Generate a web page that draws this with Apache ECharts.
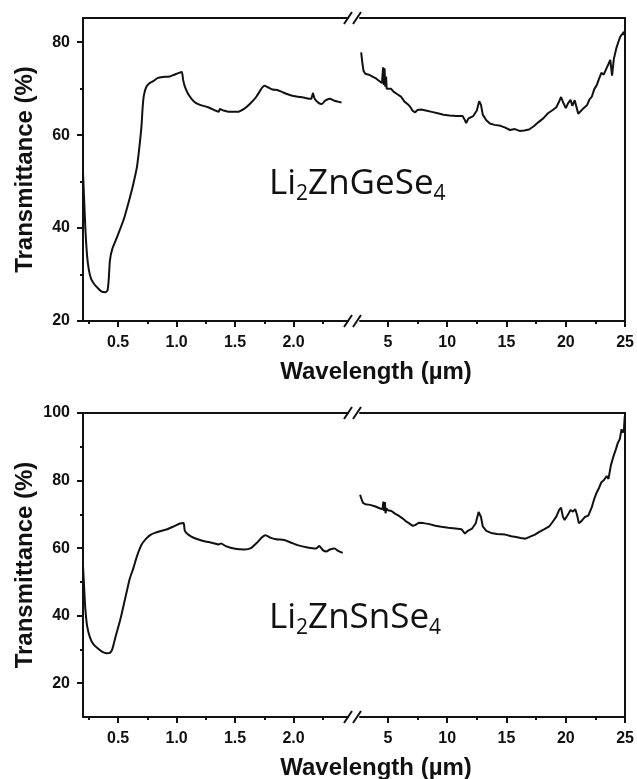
<!DOCTYPE html>
<html>
<head>
<meta charset="utf-8">
<script src="https://cdn.jsdelivr.net/npm/echarts@6/dist/echarts.min.js"></script>
<style>
html, body { margin: 0; padding: 0; background: #fff; }
#chart { width: 637px; height: 779px; }
</style>
</head>
<body>
<div id="chart"></div>
<script>
// Transmittance spectra, values: [wavelength (um), T (%)]
var geVis = [
    [0.20, 52], [0.21, 46], [0.22, 40], [0.235, 34], [0.25, 31], [0.27, 29], [0.30, 27.8],
    [0.33, 27], [0.36, 26.3], [0.39, 26.2], [0.41, 26.6], [0.42, 29], [0.43, 33], [0.45, 35.5],
    [0.49, 38], [0.55, 42], [0.60, 46.5], [0.63, 49.5], [0.66, 53], [0.68, 57], [0.70, 62],
    [0.71, 66], [0.72, 68.5], [0.74, 70.3], [0.77, 71.2], [0.80, 71.6], [0.84, 72.3], [0.88, 72.5],
    [0.94, 72.6], [0.98, 73], [1.02, 73.4], [1.045, 73.6], [1.055, 72], [1.07, 70.5], [1.10, 68.8],
    [1.15, 67.2], [1.20, 66.5], [1.27, 66], [1.33, 65.3], [1.36, 65], [1.37, 65.6], [1.40, 65.3],
    [1.45, 65], [1.52, 65], [1.58, 65.7], [1.63, 66.8], [1.68, 68.2], [1.72, 69.8], [1.75, 70.6],
    [1.78, 70.3], [1.82, 69.8], [1.86, 69.7], [1.90, 69.3], [1.95, 68.8], [2.00, 68.4], [2.06, 68.2],
    [2.12, 67.9], [2.15, 67.8], [2.165, 69.0], [2.18, 67.8], [2.21, 67], [2.24, 66.7], [2.27, 67.4],
    [2.31, 67.8], [2.35, 67.4], [2.38, 67.2], [2.41, 67]
];
var geIr = [
    [2.75, 77.8], [2.85, 75.5], [2.95, 73.8], [3.1, 73.2], [3.4, 73.0], [3.7, 72.6], [4.0, 72.2],
    [4.3, 71.6], [4.5, 71.2], [4.6, 74.6], [4.65, 70.8], [4.72, 74.4], [4.78, 70.4], [4.85, 72.6],
    [4.9, 70.0], [5.0, 70.4], [5.25, 70.0], [5.5, 69.3], [5.8, 68.8], [6.1, 68.3],
    [6.4, 67.2], [6.7, 66.6], [6.9, 66.0], [7.1, 65.2], [7.3, 64.9], [7.5, 65.4], [7.8, 65.5],
    [8.2, 65.3], [8.7, 65.0], [9.2, 64.7], [9.7, 64.4], [10.2, 64.2], [10.8, 64.1], [11.3, 64.1],
    [11.5, 63.2], [11.6, 62.6], [11.8, 63.6], [12.2, 64.1], [12.5, 65.3], [12.7, 67.3], [12.85, 66.5],
    [13.0, 64.4], [13.3, 63.2], [13.6, 62.5], [14.0, 62.2], [14.5, 62.0], [14.9, 61.6], [15.3, 61.1],
    [15.7, 61.3], [16.1, 60.9], [16.5, 61.0], [16.9, 61.2], [17.3, 61.9], [17.7, 62.8], [18.1, 63.6],
    [18.5, 64.7], [18.9, 65.4], [19.2, 66.0], [19.45, 67.3], [19.6, 68.2], [19.8, 66.9], [20.0, 65.8],
    [20.2, 66.9], [20.4, 67.6], [20.55, 66.3], [20.75, 67.5], [20.9, 67.9], [21.05, 64.6], [21.2, 64.9],
    [21.5, 65.8], [21.8, 66.5], [22.0, 67.7], [22.2, 68.3], [22.4, 69.9], [22.6, 70.7], [22.8, 72.1],
    [23.0, 73.4], [23.2, 73.0], [23.4, 74.2], [23.6, 75.3], [23.75, 76.2], [23.9, 72.8], [24.05, 76.4],
    [24.25, 78.6], [24.45, 80.2], [24.6, 81.2], [24.75, 81.5], [24.9, 82.2], [25.0, 81.2]
];
var snVis = [
    [0.20, 55], [0.21, 48], [0.22, 42], [0.235, 37], [0.26, 33.5], [0.29, 31.5], [0.33, 30.2],
    [0.37, 29.2], [0.40, 28.9], [0.43, 29.0], [0.45, 30], [0.48, 34], [0.52, 39], [0.56, 45],
    [0.60, 51], [0.63, 54], [0.66, 57.5], [0.70, 61], [0.74, 62.8], [0.78, 64], [0.82, 64.6],
    [0.86, 65], [0.92, 65.6], [0.98, 66.5], [1.03, 67.3], [1.06, 67.4], [1.07, 65.2], [1.10, 64],
    [1.15, 63], [1.22, 62.2], [1.30, 61.6], [1.36, 61.1], [1.38, 61.4], [1.42, 60.6], [1.50, 59.8],
    [1.58, 59.6], [1.64, 60.1], [1.69, 61.7], [1.73, 63.2], [1.76, 63.8], [1.80, 63.1], [1.85, 62.6],
    [1.92, 62.4], [1.98, 61.6], [2.04, 60.8], [2.12, 60.2], [2.19, 59.9], [2.22, 60.6], [2.25, 59.4],
    [2.28, 59.0], [2.31, 59.6], [2.35, 59.9], [2.38, 59.2], [2.42, 58.6]
];
var snIr = [
    [2.66, 75.8], [2.75, 74.8], [2.9, 73.4], [3.1, 73.0], [3.5, 72.8], [3.9, 72.4], [4.3, 71.8],
    [4.55, 71.5], [4.62, 73.8], [4.68, 71], [4.75, 73.6], [4.8, 70.3], [4.88, 71.8], [5.0, 71.2],
    [5.3, 71.0], [5.6, 70.2], [5.9, 69.6], [6.2, 68.9], [6.5, 68.0], [6.8, 67.3], [7.1, 66.6],
    [7.3, 66.8], [7.6, 67.5], [8.0, 67.4], [8.5, 67.1], [9.0, 66.6], [9.5, 66.3], [10.1, 66.0],
    [10.7, 65.8], [11.2, 65.6], [11.5, 64.3], [11.7, 65.0], [12.1, 65.8], [12.4, 67.3], [12.65, 70.7],
    [12.85, 69.2], [13.0, 66.4], [13.3, 65.1], [13.7, 64.5], [14.2, 64.2], [14.9, 64.0], [15.4, 63.5],
    [15.8, 63.3], [16.2, 63.0], [16.6, 62.8], [17.0, 63.4], [17.4, 64.0], [17.8, 64.9], [18.2, 65.6],
    [18.6, 66.4], [18.9, 67.8], [19.2, 69.3], [19.45, 71.4], [19.6, 72.0], [19.75, 69.4], [19.9, 68.3],
    [20.2, 70.0], [20.4, 71.3], [20.6, 70.8], [20.8, 71.5], [20.95, 69.8], [21.1, 67.4], [21.3, 67.9],
    [21.6, 69.2], [21.9, 69.6], [22.2, 72.2], [22.4, 74.6], [22.6, 76.4], [22.8, 77.8], [23.0, 79.5],
    [23.2, 80.1], [23.45, 81.3], [23.6, 80.5], [23.8, 84.5], [24.0, 87.0], [24.2, 89.0], [24.4, 91.3],
    [24.55, 92.2], [24.7, 95.2], [24.8, 94.2], [24.9, 95.0], [24.97, 99.0], [25.0, 97]
];

// tick values
var visMajor = [0.5, 1.0, 1.5, 2.0];
var visMinor = [0.25, 0.75, 1.25, 1.75, 2.25];
var irMajor = [5, 10, 15, 20, 25];
var irMinor = [7.5, 12.5, 17.5, 22.5];
var geYMajor = [20, 40, 60, 80];
var geYMinor = [30, 50, 70];
var snYMajor = [20, 40, 60, 80, 100];
var snYMinor = [30, 50, 70, 90];

var INK = '#111';
var AXIS_FONT = 'Liberation Sans, Arial, sans-serif';

// layout of the two x segments (broken axis)
var visSeg = { left: 83, width: 265, min: 0.2, max: 2.465 };
var irSeg = { left: 360, width: 267, min: 2.65, max: 25 };

var panels = [
    { top: 18, height: 303, yMin: 20, yMax: 85.2, yMajor: geYMajor, yMinor: geYMinor,
      vis: geVis, ir: geIr, formula: 'ZnGeSe', textTop: 163 },
    { top: 413, height: 304, yMin: 10, yMax: 100, yMajor: snYMajor, yMinor: snYMinor,
      vis: snVis, ir: snIr, formula: 'ZnSnSe', textTop: 597 }
];

var grids = [], xAxes = [], yAxes = [], series = [], graphics = [];

function addSegment(p, seg, isVis) {
    var gi = grids.length;
    grids.push({ left: seg.left, top: p.top, width: seg.width, height: p.height });

    var xMain = xAxes.length;
    xAxes.push({
        type: 'value', gridIndex: gi, position: 'bottom', min: seg.min, max: seg.max,
        axisLine: { show: true, onZero: false, lineStyle: { color: INK, width: 2 } },
        axisTick: { show: true, length: 6, customValues: isVis ? visMajor : irMajor,
                    lineStyle: { color: INK, width: 2 } },
        axisLabel: { show: true, customValues: isVis ? visMajor : irMajor, margin: 14,
                     fontSize: 16, fontWeight: 'bold', fontFamily: AXIS_FONT, color: INK,
                     formatter: function(v) { return isVis ? v.toFixed(1) : String(v); } },
        splitLine: { show: false }
    });
    // minor ticks
    xAxes.push({
        type: 'value', gridIndex: gi, position: 'bottom', min: seg.min, max: seg.max,
        axisLine: { show: false, onZero: false },
        axisTick: { show: true, length: 3, customValues: isVis ? visMinor : irMinor,
                    lineStyle: { color: INK, width: 2 } },
        axisLabel: { show: false }, splitLine: { show: false }
    });
    // top frame line
    xAxes.push({
        type: 'value', gridIndex: gi, position: 'top', min: seg.min, max: seg.max,
        axisLine: { show: true, onZero: false, lineStyle: { color: INK, width: 2 } },
        axisTick: { show: false }, axisLabel: { show: false }, splitLine: { show: false }
    });

    var yMain = yAxes.length;
    if (isVis) {
        yAxes.push({
            type: 'value', gridIndex: gi, position: 'left', min: p.yMin, max: p.yMax,
            name: 'Transmittance (%)', nameLocation: 'middle', nameGap: 46,
            nameTextStyle: { fontSize: 24, fontWeight: 'bold', fontFamily: AXIS_FONT, color: INK },
            axisLine: { show: true, onZero: false, lineStyle: { color: INK, width: 2 } },
            axisTick: { show: true, length: 6, customValues: p.yMajor, lineStyle: { color: INK, width: 2 } },
            axisLabel: { show: true, customValues: p.yMajor, margin: 13, fontSize: 16,
                         fontWeight: 'bold', fontFamily: AXIS_FONT, color: INK },
            splitLine: { show: false }
        });
        yAxes.push({
            type: 'value', gridIndex: gi, position: 'left', min: p.yMin, max: p.yMax,
            axisLine: { show: false, onZero: false },
            axisTick: { show: true, length: 3, customValues: p.yMinor, lineStyle: { color: INK, width: 2 } },
            axisLabel: { show: false }, splitLine: { show: false }
        });
    } else {
        yAxes.push({
            type: 'value', gridIndex: gi, position: 'right', min: p.yMin, max: p.yMax,
            axisLine: { show: true, onZero: false, lineStyle: { color: INK, width: 2 } },
            axisTick: { show: false }, axisLabel: { show: false }, splitLine: { show: false }
        });
    }

    series.push({
        type: 'line', xAxisIndex: xMain, yAxisIndex: yMain,
        data: isVis ? p.vis : p.ir, showSymbol: false, smooth: isVis ? 0.2 : false,
        lineStyle: { color: INK, width: 2 }, animation: false, clip: true
    });
}

panels.forEach(function(p) {
    addSegment(p, visSeg, true);
    addSegment(p, irSeg, false);

    // break marks "//" on top and bottom frame lines
    var bx = visSeg.left + visSeg.width;
    [p.top, p.top + p.height].forEach(function(y) {
        [bx - 4, bx + 5].forEach(function(x0) {
            graphics.push({ type: 'line', shape: { x1: x0, y1: y + 6, x2: x0 + 8, y2: y - 6 },
                            style: { stroke: INK, lineWidth: 2 } });
        });
    });

    // x axis title spanning both segments
    graphics.push({
        type: 'text', x: 376, y: p.top + p.height + 51,
        style: { text: 'Wavelength (\u00b5m)', fill: INK, font: 'bold 24px ' + AXIS_FONT,
                 align: 'center', verticalAlign: 'middle' }
    });

    // compound label with subscripts
    graphics.push({
        type: 'text', x: 269, y: p.textTop,
        style: {
            text: '{m|Li}{s|2}{m|' + p.formula + '}{s|4}',
            fill: INK,
            rich: {
                m: { fontSize: 35, fontFamily: 'Open Sans', lineHeight: 42, fill: INK },
                s: { fontSize: 21, fontFamily: 'Open Sans', lineHeight: 22, verticalAlign: 'bottom', fill: INK }
            }
        }
    });
});

var chart = echarts.init(document.getElementById('chart'), null, { renderer: 'canvas' });
chart.setOption({
    animation: false,
    backgroundColor: '#fff',
    grid: grids,
    xAxis: xAxes,
    yAxis: yAxes,
    series: series,
    graphic: graphics
});
</script>
</body>
</html>
